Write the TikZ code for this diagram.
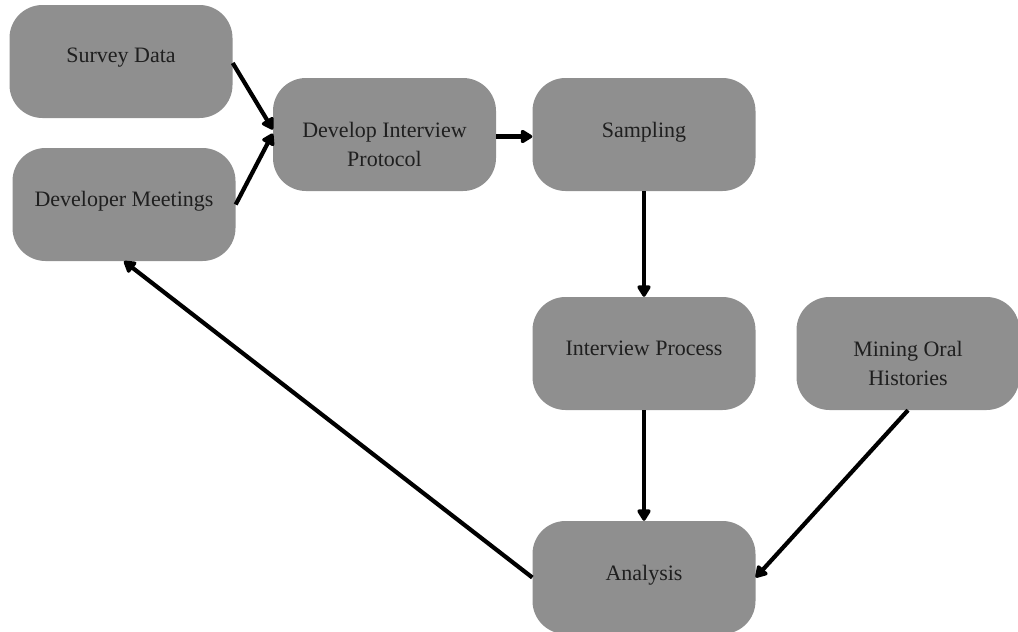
\documentclass[tikz,border=0pt]{standalone}
\usepackage{fontspec}
\setmainfont{Liberation Serif}
\usetikzlibrary{arrows.meta}
\definecolor{boxgray}{HTML}{8F8F8F}
\tikzset{
  box/.style={draw=none, fill=boxgray, rounded corners=33pt, minimum width=223pt, minimum height=113pt, inner sep=0pt},
  lbl/.style={anchor=north, inner sep=0pt, align=center, font=\fontsize{22}{29}\selectfont, text=black!88},
  conn/.style={line width=4.2pt, -{Triangle[length=13pt,width=15pt,round]}},
}
\begin{document}
\begin{tikzpicture}[x=1pt,y=-1pt]
\useasboundingbox (0,0) rectangle (1018,632);
\node[box] (survey) at (121,61.5) {};
\node[box] (meet) at (124,204.5) {};
\node[box] (dip) at (384.5,134.5) {};
\node[box] (samp) at (644,134.5) {};
\node[box] (interv) at (644,353.5) {};
\node[box] (mining) at (908,353.5) {};
\node[box] (anal) at (644,577.5) {};
\node[lbl] (tsurvey) at ([yshift=-43pt]survey.north) {Survey Data};
\node[lbl] (tmeet) at ([yshift=-43pt]meet.north) {Developer Meetings};
\node[lbl] (tdip) at ([yshift=-44pt]dip.north) {Develop Interview\\Protocol};
\node[lbl] (tsamp) at ([yshift=-44pt]samp.north) {Sampling};
\node[lbl] (tinterv) at ([yshift=-44pt]interv.north) {Interview Process};
\node[lbl] (tmining) at ([yshift=-44pt]mining.north) {Mining Oral\\Histories};
\node[lbl] (tanal) at ([yshift=-44pt]anal.north) {Analysis};
\draw[conn] ([yshift=-1.5pt]survey.east) -- ([yshift=5pt]dip.west);
\draw[conn] (meet.east) -- ([yshift=1pt]dip.west);
\draw[conn] ([yshift=-2pt]dip.east) -- ([yshift=-2pt]samp.west);
\draw[conn] (samp.south) -- (interv.north);
\draw[conn] (interv.south) -- (anal.north);
\draw[conn] (mining.south) -- (anal.east);
\draw[conn] (anal.west) -- (meet.south);
\end{tikzpicture}
\end{document}
